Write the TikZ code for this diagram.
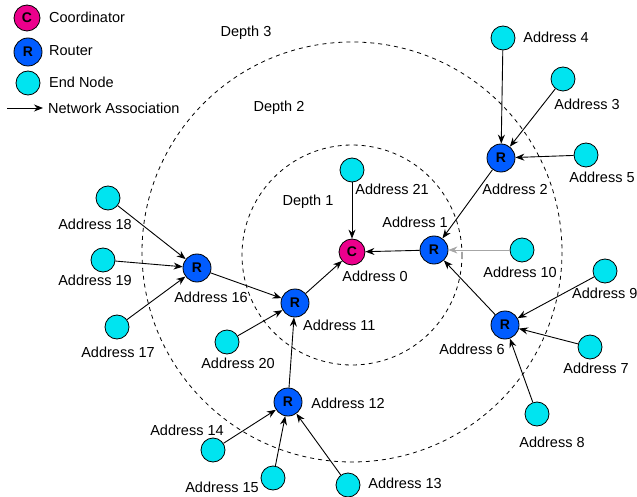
\documentclass[tikz,border=0pt]{standalone}
\usepackage{fontspec}
\setmainfont{Liberation Sans}
\usetikzlibrary{arrows.meta}
\definecolor{koordfarbe}{RGB}{236,0,140}
\definecolor{routerfarbe}{RGB}{0,92,255}
\definecolor{endfarbe}{RGB}{0,228,240}
\tikzset{
  koord/.style={circle,draw,line width=0.8pt,fill=koordfarbe,minimum size=26pt,inner sep=0pt,font=\bfseries\fontsize{14}{16}\selectfont},
  router/.style={circle,draw,line width=0.8pt,fill=routerfarbe,minimum size=28pt,inner sep=0pt,font=\bfseries\fontsize{14}{16}\selectfont},
  endknoten/.style={circle,draw,line width=0.8pt,fill=endfarbe,minimum size=24pt,inner sep=0pt},
  adresse/.style={inner sep=0pt,font=\fontsize{14.5}{16}\selectfont},
  tiefe/.style={draw,dashed,dash pattern=on 4pt off 4pt,line width=0.8pt},
  verbindung/.style={->,line width=0.9pt}
}
\begin{document}
\begin{tikzpicture}[x=1pt,y=-1pt,>={Stealth[length=9pt,width=7pt]}]
\useasboundingbox (0,0) rectangle (637,497);
\draw [tiefe] (352,255) circle (110);
\draw [tiefe] (352,252) circle (210);
\node [adresse] (d1) at (308,202) {Depth 1};
\node [adresse] (d2) at (279,108) {Depth 2};
\node [adresse] (d3) at (246,33) {Depth 3};

\node [koord] (lc) at (27,18) {C};
\node [router] (lr) at (28,52) {R};
\node [endknoten] (le) at (28,83) {};
\coordinate (lpa) at (7,108);
\coordinate (lpb) at (43,108);
\draw [verbindung] (lpa) -- (lpb);
\node [adresse,anchor=west] (lct) at (49,17) {Coordinator};
\node [adresse,anchor=west] (lrt) at (49,51) {Router};
\node [adresse,anchor=west] (let) at (49,82) {End Node};
\node [adresse,anchor=west] (lat) at (48,108) {Network Association};

\node [koord] (c0) at (352,252) {C};
\node [router] (r1) at (434,250) {R};
\node [router] (r2) at (501,158) {R};
\node [router] (r6) at (505,325) {R};
\node [router] (r16) at (197,268) {R};
\node [router] (r11) at (295,303) {R};
\node [router] (r12) at (288,402) {R};
\node [endknoten] (a4) at (503,38) {};
\node [endknoten] (a3) at (563,79) {};
\node [endknoten] (a5) at (586,155) {};
\node [endknoten] (a10) at (522,250) {};
\node [endknoten] (a9) at (605,271) {};
\node [endknoten] (a7) at (590,347) {};
\node [endknoten] (a8) at (537,414) {};
\node [endknoten] (a21) at (352,170) {};
\node [endknoten] (a18) at (108,198) {};
\node [endknoten] (a19) at (103,260) {};
\node [endknoten] (a17) at (117,327) {};
\node [endknoten] (a20) at (227,342) {};
\node [endknoten] (a14) at (213,450) {};
\node [endknoten] (a15) at (273,478) {};
\node [endknoten] (a13) at (348,485) {};

\node [adresse] (t0) at (375,276) {Address 0};
\node [adresse] (t1) at (415,222) {Address 1};
\node [adresse] (t2) at (515,189) {Address 2};
\node [adresse] (t3) at (587,104) {Address 3};
\node [adresse] (t4) at (556,37) {Address 4};
\node [adresse] (t5) at (602,177) {Address 5};
\node [adresse] (t6) at (472,349) {Address 6};
\node [adresse] (t7) at (596,368) {Address 7};
\node [adresse] (t8) at (552,442) {Address 8};
\node [adresse,anchor=west] (t9) at (572,293) {Address 9};
\node [adresse] (t10) at (520,272) {Address 10};
\node [adresse,anchor=west] (t11) at (303,325) {Address 11};
\node [adresse] (t12) at (348,403) {Address 12};
\node [adresse] (t13) at (405,483) {Address 13};
\node [adresse] (t14) at (187,430) {Address 14};
\node [adresse] (t15) at (222,487) {Address 15};
\node [adresse] (t16) at (211,297) {Address 16};
\node [adresse] (t17) at (118,352) {Address 17};
\node [adresse] (t18) at (95,224) {Address 18};
\node [adresse] (t19) at (95,280) {Address 19};
\node [adresse] (t20) at (238,363) {Address 20};
\node [adresse] (t21) at (392,189) {Address 21};

\foreach \von/\nach in {a4/r2,a3/r2,a5/r2,r2/r1,r6/r1,a9/r6,a7/r6,a8/r6,r1/c0,a21/c0,r11/c0,r16/r11,a18/r16,a19/r16,a17/r16,a20/r11,r12/r11,a14/r12,a15/r12,a13/r12}
  \draw [verbindung] (\von) -- (\nach);
\draw [verbindung,black!35] (a10) -- (r1);
\end{tikzpicture}
\end{document}
